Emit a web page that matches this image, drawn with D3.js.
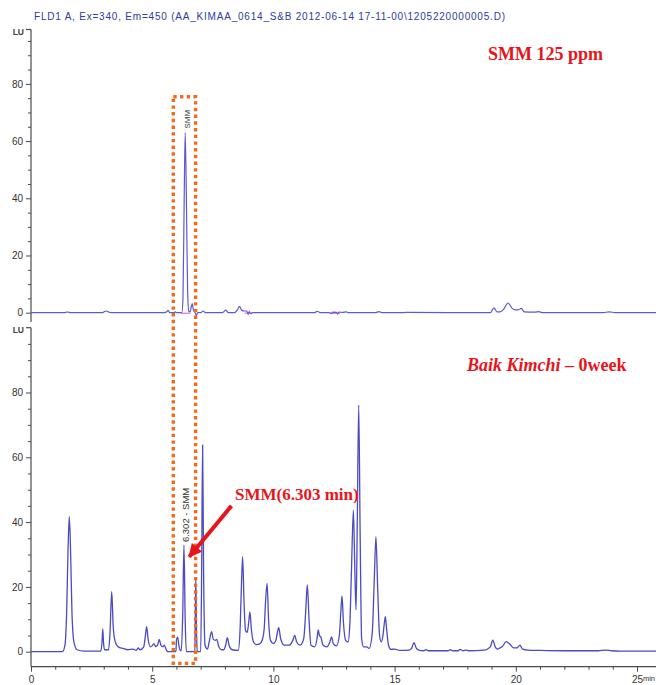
<!DOCTYPE html>
<html>
<head>
<meta charset="utf-8">
<script src="https://cdn.jsdelivr.net/npm/d3@7"></script>
<style>
  html, body { margin: 0; padding: 0; background: #fff; }
  svg { display: block; }
</style>
</head>
<body>
<svg id="chart" width="656" height="685"></svg>
<script>
// ---------------- DATA ----------------
const headerText = "FLD1 A, Ex=340, Em=450 (AA_KIMAA_0614_S&B 2012-06-14 17-11-00\\1205220000005.D)";
const topTitle = "SMM 125 ppm";
const bottomTitleItalic = "Baik Kimchi";
const bottomTitleRest = " \u2013 0week";
const arrowLabel = "SMM(6.303 min)";
const topPeakLabel = "SMM";
const bottomPeakLabel = "6.302 - SMM";
const yUnit = "LU";
const xUnit = "min";

const xTicksMajor = [0, 5, 10, 15, 20, 25];
const yTicksMajor = [0, 20, 40, 60, 80];

// Standard (SMM 125 ppm) trace: [time (min), LU]
const standardTrace = [
  [0,0],[1.35,0],[1.5,0.25],[1.65,0],[2.9,0],[3.0,0.2],[3.1,0.6],[3.25,0.1],[3.4,0],
  [5.5,0],[5.6,0.3],[5.66,0.8],[5.72,0],[5.9,0],[5.95,0.3],[6.0,0],[6.22,0],
  [6.27,5],[6.32,40],[6.36,63],[6.41,40],[6.46,8],[6.51,0.5],[6.56,0.3],[6.61,2],
  [6.65,3.2],[6.7,1],[6.76,0.2],[6.82,-1],[6.88,0],[7.0,0],[7.1,0.6],[7.2,0],
  [7.9,0],[8.04,0.9],[8.14,0],[8.4,0],[8.52,1],[8.6,2.2],[8.7,0.8],[8.8,0.6],
  [8.9,0.6],[8.96,-0.6],[9.0,0.4],[9.05,-0.3],[9.15,0],[11.7,0],[11.8,0.5],[11.95,0],
  [12.3,0],[12.4,-0.3],[12.45,0.2],[12.6,0.1],[12.65,-0.5],[12.7,0.2],[12.85,0.1],
  [13.0,0.3],[13.1,0],[14.2,0],[14.35,0.4],[14.5,0],[15.2,0],[15.5,0.1],[18.95,0],
  [19.1,1.7],[19.22,0.3],[19.35,0.3],[19.5,1.2],[19.68,3.4],[19.85,1.5],[19.98,1],
  [20.1,1.0],[20.22,1.5],[20.35,0.3],[20.8,0.2],[20.95,0.4],[21.1,0],[23.6,0],
  [23.85,0.3],[24.1,0],[25.8,0]
];

// Integration baseline marks in the standard run: [start, end] (min)
const integrationMarks = [[6.18, 6.58], [8.82, 9.08], [12.35, 12.75]];

// Baik Kimchi 0 week trace: [time (min), LU]
const sampleTrace = [
  [0,0],[1.3,0],[1.4,2],[1.47,12],[1.53,32],[1.58,41.7],[1.63,32],[1.69,12],[1.77,3],
  [1.9,0.6],[2.2,0.2],[2.88,0.2],[2.93,3],[2.96,7],[2.99,3],[3.03,0.6],[3.2,0.6],
  [3.26,6],[3.33,18.5],[3.39,8],[3.46,3.5],[3.6,1.5],[3.8,1],[4.0,0.6],[4.2,0.8],
  [4.35,0.4],[4.42,1.2],[4.5,0.6],[4.65,1.5],[4.72,5],[4.77,7.7],[4.83,4],[4.92,1.5],
  [5.0,1.8],[5.07,2.5],[5.14,1.6],[5.22,2],[5.29,3.8],[5.36,2],[5.44,1.5],[5.5,2],
  [5.58,0.6],[5.65,0],[5.98,0],[6.0,3.5],[6.05,4.5],[6.1,2],[6.15,0.5],[6.2,0.3],
  [6.26,12],[6.31,32.9],[6.36,10],[6.41,0],[6.76,0],[6.78,12],[6.8,22.7],[6.83,5],
  [6.86,0],[7.0,0],[7.04,25],[7.08,63.8],[7.12,25],[7.18,2],[7.28,0.8],[7.35,3],
  [7.45,6.2],[7.52,3.8],[7.6,3.5],[7.66,3.8],[7.75,1.5],[7.85,0.6],[7.95,0.6],
  [8.03,2],[8.1,4.3],[8.17,2],[8.3,0.6],[8.55,0.4],[8.62,6],[8.68,20],[8.73,29.3],
  [8.79,15],[8.85,6.5],[8.92,6],[8.98,9],[9.03,12.3],[9.09,7],[9.18,3],[9.3,2.2],
  [9.45,2.5],[9.54,3.6],[9.62,7],[9.68,16],[9.74,21.1],[9.8,10],[9.88,3.5],[10.0,2.5],
  [10.1,3.5],[10.18,6.5],[10.22,7.5],[10.3,4],[10.45,2],[10.65,2],[10.8,3.5],
  [10.88,5],[10.96,3],[11.1,2],[11.25,4],[11.33,12],[11.4,20.6],[11.47,10],[11.55,2],
  [11.7,1.5],[11.8,4],[11.85,6.7],[11.9,5],[11.96,4.5],[12.05,2],[12.2,1.5],
  [12.33,3],[12.4,4.6],[12.47,2.5],[12.6,1.8],[12.72,5],[12.78,12],[12.83,17.2],
  [12.89,9],[12.98,3.5],[13.08,3],[13.15,8],[13.22,25],[13.3,43.7],[13.36,25],
  [13.41,12.9],[13.46,40],[13.52,76.1],[13.58,35],[13.64,4],[13.72,1.5],[13.85,1.5],
  [13.95,1],[14.08,6],[14.16,22],[14.23,35.5],[14.3,20],[14.38,5],[14.45,3],[14.52,5],
  [14.58,9],[14.62,10.8],[14.67,7],[14.75,2],[14.85,0.7],[15.0,0.8],[15.2,0.4],
  [15.6,0.5],[15.7,1],[15.8,2.8],[15.9,1],[16.0,0.5],[16.2,0.3],[16.3,0.6],[16.4,0.3],
  [17.2,0.3],[17.3,0.6],[17.4,0.3],[17.62,0.3],[17.7,0.7],[17.82,0.3],[17.95,0.5],
  [18.05,0.3],[18.7,0.5],[18.95,1.5],[19.05,3.6],[19.15,1.5],[19.25,0.8],[19.35,1.2],
  [19.45,1.6],[19.6,3.1],[19.75,2.4],[19.9,1.2],[20.05,1.2],[20.17,2],[20.28,0.8],
  [20.5,0.5],[21.0,0.4],[22.0,0.3],[23.4,0.3],[23.7,0.5],[23.95,0.3],[24.3,0.2],[25.8,0.2]
];

// Highlight box around SMM retention window: time range and LU ends (top panel / bottom panel)
const boxTime = [5.87, 6.79];
const boxTopLU = 75.5;    // in standard panel units
const boxBottomLU = -3.6; // in sample panel units

// Arrow annotation (time, LU in sample panel)
const arrowFrom = [8.27, 45.0];
const arrowTo = [6.53, 29.3];

// ---------------- DRAW ----------------
const svg = d3.select("#chart");
const axisColor = "#4a4a4a";
const traceColor = "#4a4ac4";
const red = "#e8141b";
const orange = "#ef6c1e";

const x = d3.scaleLinear().domain([0, 25]).range([31, 637]);
const yTop = d3.scaleLinear().domain([-3.25, 99]).range([322, 29.5]);
const yBot = d3.scaleLinear().domain([-4.63, 100]).range([666.7, 327.7]);

// header
svg.append("text").attr("x", 34).attr("y", 20)
  .attr("font-family", "Liberation Sans, Arial, sans-serif").attr("font-size", 10)
  .attr("textLength", 471).attr("lengthAdjust", "spacing")
  .attr("fill", "#2b3d9e").text(headerText);

function yAxis(scale, topVal, botVal) {
  const g = svg.append("g").attr("transform", "translate(31,0)");
  g.append("line").attr("x1", 0).attr("x2", 0)
    .attr("y1", scale(topVal)).attr("y2", scale(botVal))
    .attr("stroke", axisColor).attr("stroke-width", 1.2);
  g.append("line").attr("x1", -5).attr("x2", 0)
    .attr("y1", scale(topVal)).attr("y2", scale(topVal))
    .attr("stroke", axisColor).attr("stroke-width", 1.2);
  const minor = d3.range(0, topVal, 5).filter(v => v % 20 !== 0);
  const gm = g.append("g").call(d3.axisLeft(scale).tickValues(minor).tickSize(3).tickFormat(""));
  const gM = g.append("g").call(d3.axisLeft(scale).tickValues(yTicksMajor).tickSize(5).tickPadding(3));
  [gm, gM].forEach(a => {
    a.select(".domain").remove();
    a.selectAll("line").attr("stroke", axisColor).attr("stroke-width", 1);
    a.selectAll("text").attr("font-family", "Liberation Sans, Arial, sans-serif")
      .attr("font-size", 10).attr("fill", "#333");
  });
  svg.append("text").attr("x", 24).attr("y", scale(topVal) + 5)
    .attr("text-anchor", "end").attr("font-family", "Liberation Sans, Arial, sans-serif")
    .attr("font-size", 8.5).attr("font-weight", "bold").attr("fill", "#444").text(yUnit);
}
yAxis(yTop, 99, -3.25);
yAxis(yBot, 100, -4.63);

// x axis (bottom panel)
const gx = svg.append("g").attr("transform", `translate(0,${yBot(-4.63)})`);
gx.append("line").attr("x1", x(0)).attr("x2", 656).attr("stroke", axisColor).attr("stroke-width", 1.2);
const gxm = gx.append("g").call(d3.axisBottom(x).tickValues(d3.range(1, 26).filter(v => v % 5 !== 0)).tickSize(3).tickFormat(""));
const gxM = gx.append("g").call(d3.axisBottom(x).tickValues(xTicksMajor).tickSize(5).tickPadding(4).tickFormat(d3.format("d")));
[gxm, gxM].forEach(a => {
  a.select(".domain").remove();
  a.selectAll("line").attr("stroke", axisColor).attr("stroke-width", 1);
  a.selectAll("text").attr("font-family", "Liberation Sans, Arial, sans-serif")
    .attr("font-size", 10).attr("fill", "#333");
});
gx.append("text").attr("x", 655).attr("y", 14).attr("text-anchor", "end")
  .attr("font-family", "Liberation Sans, Arial, sans-serif").attr("font-size", 7.5)
  .attr("fill", "#333").text(xUnit);

// traces
const lineTop = d3.line().x(d => x(d[0])).y(d => yTop(d[1])).curve(d3.curveMonotoneX);
const lineBot = d3.line().x(d => x(d[0])).y(d => yBot(d[1])).curve(d3.curveMonotoneX);

svg.append("path").datum(standardTrace).attr("d", lineTop)
  .attr("fill", "none").attr("stroke", "#5a5ad4").attr("stroke-width", 1.2);
svg.selectAll(".imark").data(integrationMarks).enter().append("line")
  .attr("x1", d => x(d[0])).attr("x2", d => x(d[1]))
  .attr("y1", yTop(0) + 0.5).attr("y2", yTop(0) + 0.5)
  .attr("stroke", "#d040c0").attr("stroke-width", 0.9);
svg.append("path").datum(sampleTrace).attr("d", lineBot)
  .attr("fill", "none").attr("stroke", traceColor).attr("stroke-width", 1.3);

// peak labels
svg.append("text")
  .attr("transform", `translate(${x(6.36) + 5},${yTop(63) - 4}) rotate(-90)`)
  .attr("font-family", "Liberation Sans, Arial, sans-serif").attr("font-size", 8)
  .attr("fill", "#333").text(topPeakLabel);
svg.append("text")
  .attr("transform", `translate(${x(6.31) + 5},${yBot(32.9) - 3}) rotate(-90)`)
  .attr("font-family", "Liberation Sans, Arial, sans-serif").attr("font-size", 9.5)
  .attr("fill", "#333").text(bottomPeakLabel);

// orange dotted box
svg.append("rect")
  .attr("x", x(boxTime[0])).attr("y", yTop(boxTopLU))
  .attr("width", x(boxTime[1]) - x(boxTime[0]))
  .attr("height", yBot(boxBottomLU) - yTop(boxTopLU))
  .attr("fill", "none").attr("stroke", orange).attr("stroke-width", 3.4)
  .attr("stroke-dasharray", "3.4 3.3");

// titles
svg.append("text").attr("x", 488).attr("y", 60)
  .attr("font-family", "Liberation Serif, Times New Roman, serif").attr("font-size", 18)
  .attr("font-weight", "bold").attr("fill", red).text(topTitle);
const bt = svg.append("text").attr("x", 467).attr("y", 371)
  .attr("font-family", "Liberation Serif, Times New Roman, serif").attr("font-size", 18)
  .attr("font-weight", "bold").attr("fill", red);
bt.append("tspan").attr("font-style", "italic").text(bottomTitleItalic);
bt.append("tspan").text(bottomTitleRest);

// arrow annotation
svg.append("defs").append("marker").attr("id", "ah")
  .attr("viewBox", "0 0 10 10").attr("refX", 9).attr("refY", 5)
  .attr("markerWidth", 3.6).attr("markerHeight", 3.4).attr("orient", "auto")
  .attr("markerUnits", "strokeWidth")
  .append("path").attr("d", "M0,0 L10,5 L0,10 Z").attr("fill", red);
svg.append("line")
  .attr("x1", x(arrowFrom[0])).attr("y1", yBot(arrowFrom[1]))
  .attr("x2", x(arrowTo[0])).attr("y2", yBot(arrowTo[1]))
  .attr("stroke", red).attr("stroke-width", 4).attr("marker-end", "url(#ah)");
svg.append("text").attr("x", 235).attr("y", 500)
  .attr("font-family", "Liberation Serif, Times New Roman, serif").attr("font-size", 17)
  .attr("font-weight", "bold").attr("fill", red).text(arrowLabel);
</script>
</body>
</html>
